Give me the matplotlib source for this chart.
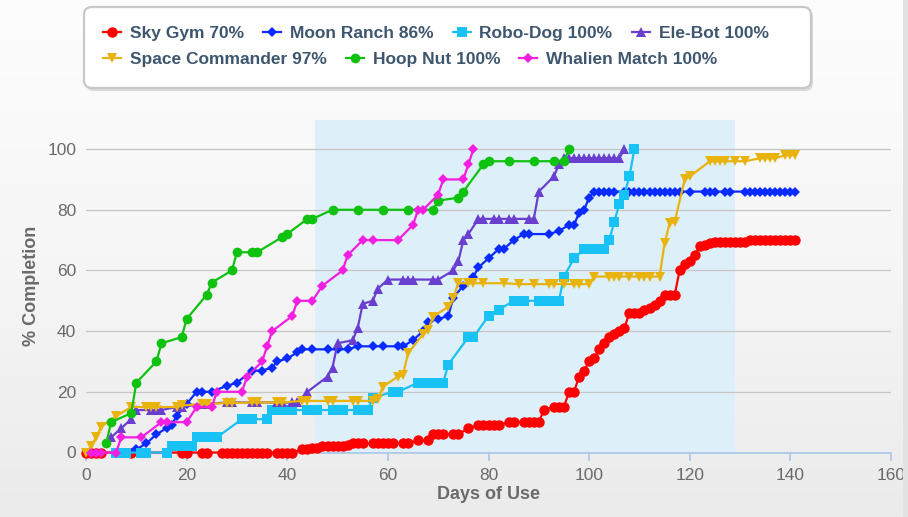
import matplotlib
matplotlib.use('Agg')
import matplotlib.pyplot as plt
import numpy as np
from matplotlib.patches import FancyBboxPatch, Rectangle
from matplotlib.transforms import IdentityTransform
from matplotlib.colors import LinearSegmentedColormap

plt.rcParams['font.family'] = ['Liberation Sans', 'DejaVu Sans']

# ---------------- data ----------------
sky_days = [0, 1, 2, 3, 9, 19, 20, 23, 24, 27, 28, 29, 30, 31, 32, 33, 34, 35, 36, 38, 39, 40, 41,
            43, 44, 45, 46, 47, 48, 49, 50, 51, 52, 53, 54, 55, 57, 58, 59, 60, 61, 63, 64, 66, 68,
            69, 70, 71, 73, 74, 76, 78, 79, 80, 81, 82, 84, 85, 87, 88, 89, 90, 91, 93, 94, 95,
            96, 97, 98, 99, 100, 101, 102, 103, 104, 105, 106, 107, 108, 109, 110, 111, 112, 113,
            114, 115, 116, 117, 118, 119, 120, 121, 122, 123, 124, 125, 126, 127, 128, 129, 130,
            131, 132, 133, 134, 135, 136, 137, 138, 139, 140, 141]
sky_pct = [0, 0, 0, 0, 0, 0, 0, 0, 0, 0, 0, 0, 0, 0, 0, 0, 0, 0, 0, 0, 0, 0, 0,
           1, 1, 1.5, 1.5, 2, 2, 2, 2, 2, 2.5, 3, 3, 3, 3, 3, 3, 3, 3, 3, 3, 4, 4,
           6, 6, 6, 6, 6, 8, 9, 9, 9, 9, 9, 10, 10, 10, 10, 10, 10, 14, 15, 15, 15,
           20, 20, 25, 27, 30, 31, 34, 36, 38, 39, 40, 41, 46, 46, 46, 47, 47.5, 48.5,
           50, 52, 52, 52, 60, 62, 63, 65, 68, 68.5, 69, 69.5, 69.5, 69.5, 69.5, 69.5, 69.5,
           69.5, 70, 70, 70, 70, 70, 70, 70, 70, 70, 70]

moon_days = [8, 10, 12, 14, 16, 17, 18, 20, 22, 23, 25, 28, 30, 33, 35, 37, 38, 40, 42, 43, 45,
             48, 50, 52, 54, 57, 59, 62, 63, 65, 67, 68, 70, 72, 73, 75, 77, 78, 80, 82, 83, 85,
             87, 88, 92, 94, 96, 97, 98, 99, 100, 101, 102, 103, 104, 105, 107, 108, 109, 110,
             111, 112, 113, 114, 115, 116, 117, 118, 120, 123, 124, 125, 127, 128, 131, 132,
             133, 134, 135, 136, 137, 138, 139, 140, 141]
moon_pct = [0, 1, 3, 6, 8, 9, 12, 16, 20, 20, 20, 22, 23, 27, 27, 28, 30, 31, 33, 34, 34,
            34, 34, 34, 35, 35, 35, 35, 35, 37, 40, 43, 44, 45, 51, 55, 58, 61, 64, 67, 67, 70,
            72, 72, 72, 73, 75, 75, 79, 80, 84, 86, 86, 86, 86, 86, 86, 86, 86, 86,
            86, 86, 86, 86, 86, 86, 86, 86, 86, 86, 86, 86, 86, 86, 86, 86,
            86, 86, 86, 86, 86, 86, 86, 86, 86]

robo_days = [6, 7, 8, 11, 12, 16, 17, 19, 21, 22, 24, 26, 31, 33, 36, 37, 39, 41, 44, 46, 49,
             51, 54, 56, 57, 61, 62, 66, 67, 69, 71, 72, 76, 77, 80, 82, 85, 87, 90, 92, 94, 95,
             97, 99, 100, 101, 103, 104, 105, 106, 107, 108, 109]
robo_pct = [0, 0, 0, 0, 0, 0, 2, 2, 2, 5, 5, 5, 11, 11, 11, 14, 14, 14, 14, 14, 14,
            14, 14, 14, 18, 20, 20, 23, 23, 23, 23, 29, 38, 38, 45, 47, 50, 50, 50, 50, 50, 58,
            64, 67, 67, 67, 67, 70, 76, 82, 85, 91, 100]

ele_days = [5, 7, 9, 10, 13, 14, 15, 18, 19, 23, 24, 28, 29, 33, 34, 38, 39, 41, 42, 44, 48,
            49, 50, 53, 54, 55, 57, 58, 60, 63, 64, 65, 69, 70, 73, 74, 75, 76, 78, 79, 81, 82,
            84, 85, 88, 89, 90, 93, 94, 95, 96, 97, 98, 99, 100, 101, 102, 103, 104, 105, 106,
            107]
ele_pct = [5, 8, 11, 14, 14, 14, 14, 15, 15, 16, 16, 16.5, 16.5, 16.5, 16.5, 16.5, 16.5, 16.5,
           16.5, 20, 25, 28, 36, 37, 41, 49, 50, 54, 57, 57, 57, 57, 57, 57, 60, 63, 70, 72,
           77, 77, 77, 77, 77, 77, 77, 77, 86, 91, 95, 97, 97, 97, 97, 97, 97, 97, 97, 97,
           97, 97, 97, 100]

space_days = [0, 1, 2, 3, 6, 9, 12, 13, 14, 18, 19, 23, 24, 28, 29, 33, 34, 38, 39, 43, 44, 48,
              49, 53, 54, 57, 58, 59, 62, 63, 64, 67, 68, 69, 72, 73, 74, 76, 77, 79, 83, 86,
              89, 92, 93, 95, 97, 98, 100, 101, 104, 105, 106, 108, 110, 111, 112, 114, 115,
              116, 117, 119, 120, 124, 125, 126, 127, 129, 131, 134, 135, 136, 137, 139, 140,
              141]
space_pct = [0, 2, 5, 8.5, 12, 15, 15, 15, 15, 15, 15.5, 16, 16, 16.3, 16.3, 16.5, 16.5, 16.5,
             16.5, 17, 17, 17, 17, 17, 17, 17, 17.5, 21.7, 25, 25.5, 32.7, 39, 40.5, 44.8, 48,
             51, 55.8, 55.8, 55.8, 55.8, 55.8, 55.5, 55.5, 55.5, 55.5, 55.5, 55.5, 55.5, 55.5,
             58, 58, 58, 58, 58, 58, 58, 58, 58, 69, 75.5, 76, 90, 91, 96, 96, 96, 96, 96, 96,
             97, 97, 97, 97, 98, 98, 98]

hoop_days = [4, 5, 9, 10, 14, 15, 19, 20, 24, 25, 29, 30, 33, 34, 39, 40, 44, 45, 49, 54, 59,
             64, 69, 70, 74, 75, 79, 80, 84, 89, 93, 95, 96]
hoop_pct = [3, 10, 13, 23, 30, 36, 38, 44, 52, 56, 60, 66, 66, 66, 71, 72, 77, 77, 80, 80, 80,
            80, 80, 83, 84, 86, 95, 96, 96, 96, 96, 96, 100]

whale_days = [1, 2, 3, 6, 7, 11, 15, 16, 20, 22, 25, 26, 31, 32, 35, 36, 37, 41, 42, 45, 47,
              51, 52, 55, 57, 62, 65, 66, 67, 70, 71, 75, 76, 77]
whale_pct = [0, 0, 0, 0, 5, 5, 10, 10, 10, 15, 15, 20, 20, 25, 30, 35, 40, 45, 50, 50, 55,
             60, 65, 70, 70, 70, 75, 80, 80, 85, 90, 90, 95, 100]

x_ticks = [0, 20, 40, 60, 80, 100, 120, 140, 160]
y_ticks = [0, 20, 40, 60, 80, 100]
band_range = (45.5, 129)

series = [
    ("Sky Gym 70%", sky_days, sky_pct, '#ff0000', 'o', 7.5),
    ("Moon Ranch 86%", moon_days, moon_pct, '#0a2bff', 'D', 5.0),
    ("Robo-Dog 100%", robo_days, robo_pct, '#19c2f5', 's', 6.5),
    ("Ele-Bot 100%", ele_days, ele_pct, '#6a3fd0', '^', 6.5),
    ("Space Commander 97%", space_days, space_pct, '#e8b30c', 'v', 6.5),
    ("Hoop Nut 100%", hoop_days, hoop_pct, '#0fc20f', 'o', 7.0),
    ("Whalien Match 100%", whale_days, whale_pct, '#f21ee0', 'D', 5.0),
]

# ---------------- figure ----------------
W, H = 908, 517
fig = plt.figure(figsize=(W / 100, H / 100), dpi=100)
fig.patch.set_facecolor('#f1f1f1')

bg = fig.add_axes([0, 0, 1, 1], zorder=-10)
grad = np.linspace(0, 1, 256).reshape(-1, 1)
cmap = LinearSegmentedColormap.from_list('bg', ['#fdfdfd', '#f6f6f6', '#ebebeb'])
bg.imshow(grad, aspect='auto', cmap=cmap, extent=[0, 1, 0, 1])
bg.axis('off')


def fx(px):
    return px / W


def fy(py):
    return 1 - py / H


ax = fig.add_axes([fx(86), fy(452.5), fx(891) - fx(86), fy(120) - fy(452.5)])
ax.set_facecolor('none')
ax.set_xlim(0, 160)
ax.set_ylim(0, (452.5 - 120) / 3.034)

ax.axvspan(band_range[0], band_range[1], color='#ddeff9', zorder=0.2, lw=0)

lines = []
for name, xs, ys, col, mk, ms in series:
    ln, = ax.plot(xs, ys, color=col, lw=1.6, marker=mk, markersize=ms,
                  markeredgewidth=0, label=name, zorder=3, clip_on=False)
    lines.append(ln)

ax.set_xticks(x_ticks)
ax.set_yticks(y_ticks)
ax.yaxis.grid(True, color='#c6c6c6', lw=0.9)
ax.set_axisbelow(True)
for s in ['top', 'right', 'left']:
    ax.spines[s].set_visible(False)
ax.spines['bottom'].set_color('#a9c6e6')
ax.spines['bottom'].set_linewidth(1.2)
ax.spines['bottom'].set_zorder(2.5)
ax.tick_params(axis='x', direction='out', length=6, width=1.2, color='#a9c6e6',
               labelsize=12.5, labelcolor='#6a6a6a', pad=5)
ax.tick_params(axis='y', length=0, labelsize=12.5, labelcolor='#6a6a6a', pad=7)

ax.set_xlabel('Days of Use', fontsize=13, fontweight='bold', color='#6a6a6a', labelpad=2)
ax.set_ylabel('% Completion', fontsize=13, fontweight='bold', color='#6a6a6a', labelpad=5)

# legend frame
shadow = FancyBboxPatch((86, H - 91), 727, 82, boxstyle='round,pad=0,rounding_size=8',
                        transform=IdentityTransform(), facecolor='#d9d9d9', edgecolor='none',
                        zorder=1)
frame = FancyBboxPatch((84, H - 88), 727, 81, boxstyle='round,pad=0,rounding_size=8',
                       transform=IdentityTransform(), facecolor='white', edgecolor='#c8c8c8',
                       lw=1.6, zorder=2)
fig.add_artist(shadow)
fig.add_artist(frame)

# right-hand border of the screenshot frame
edge = Rectangle((903, 0), 5, H, transform=IdentityTransform(), facecolor='#e2e2e2',
                 edgecolor='none', zorder=6)
fig.add_artist(edge)

F = 17.4
common = dict(loc='center left', frameon=False, borderpad=0, borderaxespad=0,
              handlelength=18 / F, handletextpad=9 / F, columnspacing=19 / F,
              prop={'weight': 'bold', 'size': 12.5}, labelcolor='#3e576f', numpoints=1)
leg1 = fig.legend(handles=lines[:4], ncol=4, bbox_to_anchor=(fx(103), fy(33)), **common)
leg2 = fig.legend(handles=lines[4:], ncol=3, bbox_to_anchor=(fx(103), fy(59)), **common)
leg1.set_zorder(5)
leg2.set_zorder(5)

fig.savefig('out.png', dpi=100, facecolor=fig.get_facecolor())
